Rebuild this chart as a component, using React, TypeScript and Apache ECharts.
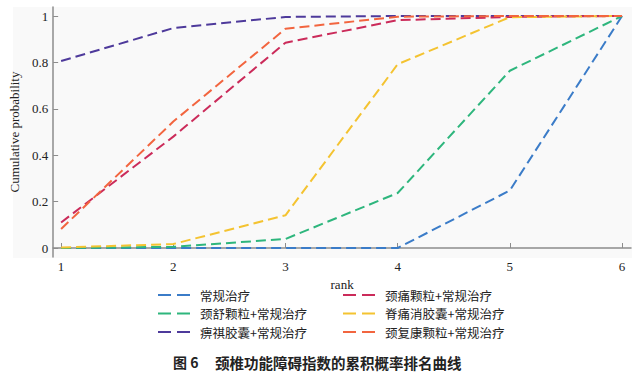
import React, { useEffect, useRef } from "react";
import * as echarts from "echarts";

const ranks = [1, 2, 3, 4, 5, 6];
const yTicks = [0, 0.2, 0.4, 0.6, 0.8, 1];
const seriesNames = [
  "常规治疗",
  "颈舒颗粒+常规治疗",
  "痹祺胶囊+常规治疗",
  "颈痛颗粒+常规治疗",
  "脊痛消胶囊+常规治疗",
  "颈复康颗粒+常规治疗",
];
const conventional = [0, 0, 0, 0, 0.248, 1];
const jingshu = [0, 0.005, 0.039, 0.237, 0.764, 1];
const biqi = [0.806, 0.948, 0.996, 1, 1, 1];
const jingtong = [0.11, 0.48, 0.885, 0.982, 0.996, 1];
const jitongxiao = [0.002, 0.017, 0.141, 0.792, 0.995, 1];
const jingfukang = [0.082, 0.545, 0.945, 0.997, 1, 1];
const seriesValues = [conventional, jingshu, biqi, jingtong, jitongxiao, jingfukang];
const colors = ["#3b7cc8", "#2eb67d", "#4e3a9b", "#cb2b5a", "#f4c331", "#f2653f"];
const legendCol1 = [seriesNames[0], seriesNames[1], seriesNames[2]];
const legendCol2 = [seriesNames[3], seriesNames[4], seriesNames[5]];
const figureLabel = "图 6";
const figureTitle = "颈椎功能障碍指数的累积概率排名曲线";

export default function App() {
  const ref = useRef<HTMLDivElement>(null);
  useEffect(() => {
    if (!ref.current) return;
    const chart = echarts.init(ref.current, null, { renderer: "svg" });
    const serif = "'Liberation Serif', 'DejaVu Serif', serif";
    const cjk = "'Noto Sans CJK SC', sans-serif";
    const legendCommon = {
      orient: "vertical",
      top: 282,
      padding: 5,
      itemWidth: 32,
      itemHeight: 2,
      itemGap: 2.5,
      icon: "path://M0,0h13v2h-13z M19,0h13v2h-13z",
      textStyle: { fontSize: 12.5, fontFamily: cjk, color: "#222", lineHeight: 16, padding: [0, 0, 0, 5] },
    };
    chart.setOption({
      animation: false,
      color: colors,
      grid: { left: 50, right: 11, top: 7, bottom: 119, containLabel: false },
      graphic: [
        {
          type: "rect",
          z: -10,
          shape: { x: 13, y: 7, width: 619, height: 251 },
          style: { fill: "#f9f9f9" },
          silent: true,
        },
        {
          type: "text",
          x: 173,
          y: 362,
          style: { text: figureLabel, font: `bold 14px ${cjk}`, fill: "#222", textVerticalAlign: "middle" },
        },
        {
          type: "text",
          x: 215,
          y: 362,
          style: { text: figureTitle, font: `bold 14.5px ${cjk}`, fill: "#222", textVerticalAlign: "middle" },
        },
      ],
      legend: [
        { ...legendCommon, left: 153, data: legendCol1 },
        { ...legendCommon, left: 338, data: legendCol2 },
      ],
      xAxis: {
        type: "value",
        min: 1 - 8 / 112.8,
        max: 6 + 9 / 112.8,
        name: "rank",
        nameLocation: "middle",
        nameGap: 14,
        nameTextStyle: { fontFamily: serif, fontSize: 13, color: "#222" },
        splitLine: { show: false },
        axisLine: { show: true, lineStyle: { color: "#8c8c8c", width: 1.5 } },
        axisTick: { show: true, inside: true, length: 5, customValues: ranks, lineStyle: { color: "#8c8c8c" } },
        axisLabel: {
          customValues: ranks,
          fontFamily: serif,
          fontSize: 13,
          color: "#222",
          margin: 3,
        },
      },
      yAxis: {
        type: "value",
        min: -9 / 232,
        max: 1 + 9 / 232,
        name: "Cumulative probability",
        nameLocation: "middle",
        nameGap: 26,
        nameRotate: 90,
        nameTextStyle: { fontFamily: serif, fontSize: 13, color: "#222" },
        splitLine: { show: false },
        axisLine: { show: true, lineStyle: { color: "#8c8c8c", width: 1.5 } },
        axisTick: { show: true, inside: true, length: 5, customValues: yTicks, lineStyle: { color: "#8c8c8c" } },
        axisLabel: {
          customValues: yTicks,
          fontFamily: serif,
          fontSize: 13,
          color: "#222",
          margin: 5,
          formatter: (v: number) => String(Math.round(v * 10) / 10),
        },
      },
      series: seriesNames.map((name, i) => ({
        name,
        type: "line",
        data: ranks.map((r, j) => [r, seriesValues[i][j]]),
        symbol: "none",
        lineStyle: { width: 2, type: [10, 5], color: colors[i] },
        itemStyle: { color: colors[i] },
      })),
    });
    return () => chart.dispose();
  }, []);
  return <div ref={ref} style={{ width: 642, height: 376, position: "absolute", left: 0, top: 0 }} />;
}
